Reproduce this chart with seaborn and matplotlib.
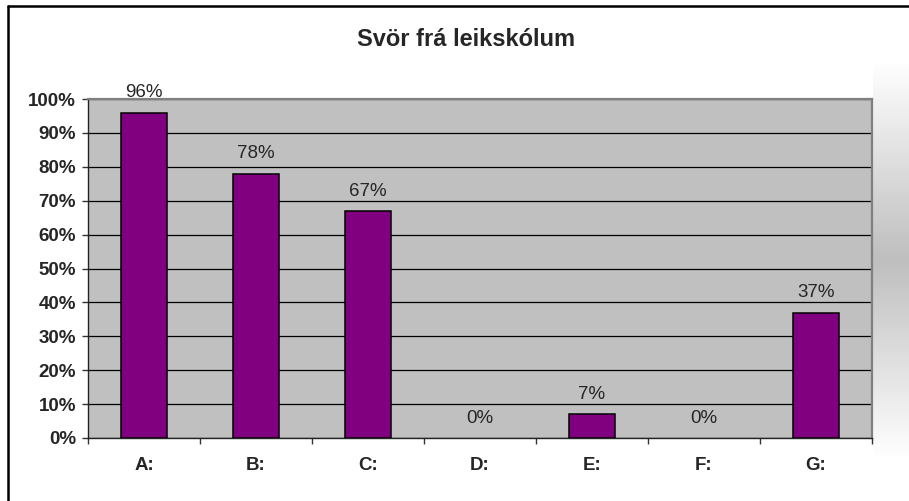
import numpy as np
import pandas as pd
import seaborn as sns
import matplotlib.pyplot as plt
from matplotlib.lines import Line2D
from matplotlib.colors import LinearSegmentedColormap

categories = ['A:', 'B:', 'C:', 'D:', 'E:', 'F:', 'G:']
values = [96, 78, 67, 0, 7, 0, 37]
yticks = [0, 10, 20, 30, 40, 50, 60, 70, 80, 90, 100]

df = pd.DataFrame({'Category': categories, 'Percent': values})

sns.set_style('white')
plt.rcParams['font.family'] = ['Liberation Sans', 'DejaVu Sans']

W, H = 909, 501
fig = plt.figure(figsize=(W / 100, H / 100), dpi=100)
fig.patch.set_facecolor('white')

# soft grey band to the right of the plot area
band = np.concatenate([np.linspace(0, 1, 50), np.linspace(1, 0, 50)]).reshape(-1, 1)
band_cmap = LinearSegmentedColormap.from_list('band', ['#ffffff', '#bfbfbf'])
bg = fig.add_axes([873 / W, 1 - 460 / H, 1 - 873 / W, 400 / H])
bg.imshow(band, cmap=band_cmap, aspect='auto', vmin=0, vmax=1)
bg.axis('off')

# outer chart frame (left and top edges visible)
fig.add_artist(Line2D([8 / W, 8 / W], [0, 1 - 6 / H], transform=fig.transFigure, color='black', linewidth=1.8))
fig.add_artist(Line2D([8 / W, 1], [1 - 6 / H, 1 - 6 / H], transform=fig.transFigure, color='black', linewidth=1.8))

ax = fig.add_axes([88 / W, 1 - 438 / H, 784 / W, 339 / H])
sns.barplot(data=df, x='Category', y='Percent', color='#800080', edgecolor='black',
            linewidth=1.1, width=0.41, saturation=1, ax=ax, zorder=3)
# zero-height bars leave no visible outline
for p in ax.patches:
    if p.get_height() == 0:
        p.set_linewidth(0)
ax.set_facecolor('#C0C0C0')
ax.set_ylim(0, 100)
ax.set_xlim(-0.5, len(categories) - 0.5)
ax.set_yticks(yticks)
ax.set_yticklabels([f'{t}%' for t in yticks], fontweight='bold', fontsize=13.5)
ax.set_xticklabels(categories, fontweight='bold', fontsize=13.5)
ax.yaxis.grid(True, color='black', linewidth=0.9, zorder=0)
ax.set_axisbelow(True)
ax.set_xlabel('')
ax.set_ylabel('')

# tick marks between categories
ax.set_xticks([i + 0.5 for i in range(-1, len(categories))], minor=True)
ax.tick_params(axis='x', which='major', length=0, pad=14)
ax.tick_params(axis='x', which='minor', length=4.5, width=1, color='#333333', direction='out', bottom=True)
ax.tick_params(axis='y', length=4.5, width=1, color='#333333', direction='out', left=True, pad=4)

for s in ['top', 'right']:
    ax.spines[s].set_color('#808080')
    ax.spines[s].set_linewidth(1.6)
for s in ['left', 'bottom']:
    ax.spines[s].set_color('#222222')
    ax.spines[s].set_linewidth(1)

for i, v in enumerate(values):
    ax.annotate(f'{v}%', (i, v), xytext=(0, 8), textcoords='offset points',
                ha='center', va='bottom', fontsize=13.5, clip_on=False)

fig.text(466 / W, 1 - 40 / H, 'Svör frá leikskólum', ha='center', va='center',
         fontsize=17, fontweight='bold')

fig.savefig('out.png', dpi=100)
